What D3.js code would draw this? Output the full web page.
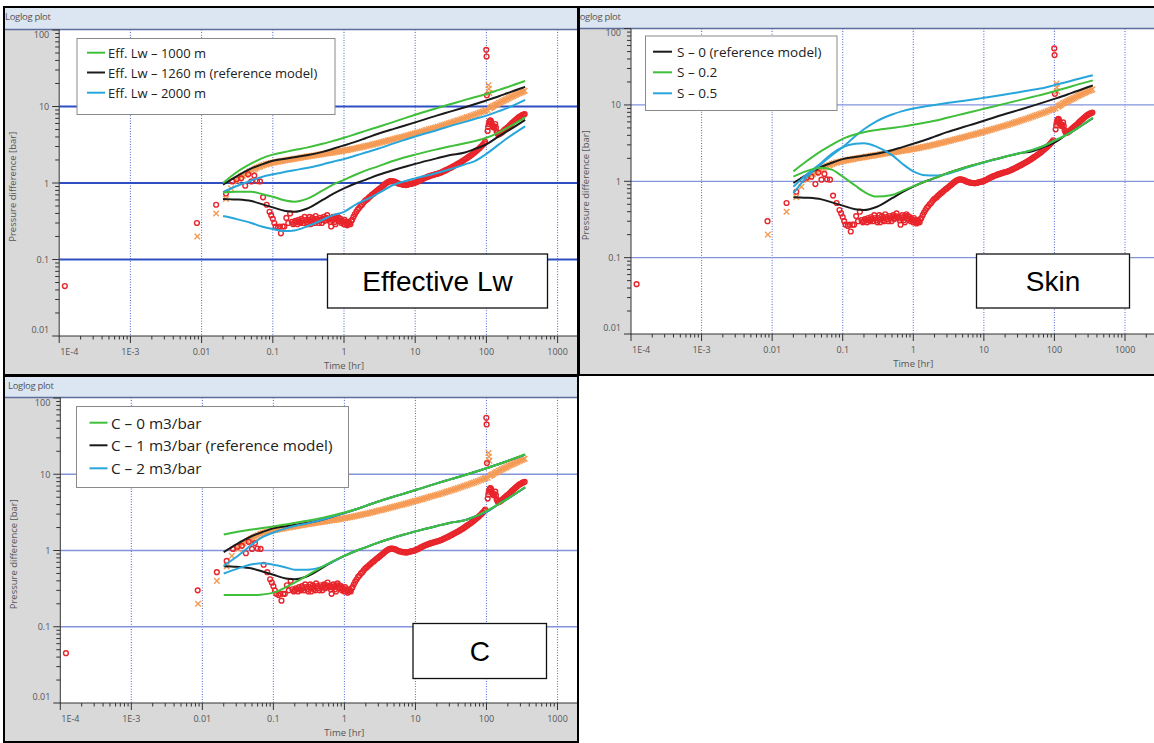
<!DOCTYPE html>
<html><head><meta charset="utf-8">
<script src="https://cdn.jsdelivr.net/npm/d3@7"></script>
<style>
html,body{margin:0;padding:0;background:#fff;}
svg{display:block;font-family:"Open Sans",sans-serif;}
</style></head><body>
<svg id="chart" width="1154" height="743"></svg>
<script>
// ---------- axis ticks ----------
const timeTickValues = [1e-4, 1e-3, 0.01, 0.1, 1, 10, 100, 1000];
const timeTickLabels = ["1E-4", "1E-3", "0.01", "0.1", "1", "10", "100", "1000"];
const pressureTickValues = [0.01, 0.1, 1, 10, 100];
const pressureTickLabels = ["0.01", "0.1", "1", "10", "100"];

// ---------- measured data: derivative (circles) ----------
const derivTime = [
  0.00012, 0.0086, 0.016, 0.022, 0.027, 0.031, 0.036, 0.041, 0.045, 0.050, 0.055, 0.060, 0.066, 0.073, 0.082, 0.090, 0.095,
  0.100, 0.105, 0.110, 0.118, 0.125, 0.130, 0.138, 0.145, 0.155, 0.165, 0.175,
  0.185, 0.193, 0.20, 0.207, 0.215, 0.222, 0.23, 0.238, 0.245, 0.253, 0.26, 0.27, 0.28, 0.29, 0.30, 0.31, 0.32, 0.33, 0.34, 0.35,
  0.36, 0.37, 0.38, 0.39, 0.40, 0.415, 0.43, 0.445, 0.46, 0.475, 0.49, 0.505, 0.52, 0.535, 0.55, 0.565, 0.58, 0.60, 0.62, 0.64,
  0.66, 0.68, 0.70, 0.72, 0.74, 0.76, 0.78, 0.80, 0.82, 0.845, 0.87, 0.895, 0.92, 0.945, 0.97, 0.995, 1.02, 1.05, 1.08, 1.11,
  1.14, 1.17, 1.20, 1.23, 1.27,
  1.30, 1.36, 1.42, 1.49, 1.56, 1.63, 1.71, 1.79, 1.87, 1.96, 2.05, 2.15, 2.25, 2.35, 2.46, 2.58, 2.70, 2.83, 2.96, 3.10, 3.24,
  3.40, 3.56, 3.72, 3.90, 4.08, 4.27, 4.47, 4.68, 4.90, 5.13, 5.37, 5.62, 5.89, 6.17, 6.46, 6.76, 7.08, 7.41, 7.76, 8.13, 8.51,
  8.91, 9.33, 9.77, 10.2, 10.7, 11.2, 11.7, 12.3, 12.9, 13.5, 14.1, 14.8, 15.5, 16.2, 17.0, 17.8, 18.6, 19.5, 20.4, 21.4, 22.4,
  23.4, 24.5, 25.7, 26.9, 28.2, 29.5, 30.9, 32.4, 33.9, 35.5, 37.2, 38.9, 40.7, 42.7, 44.7, 46.8, 49.0, 51.3, 53.7, 56.2, 58.9,
  61.7, 64.6, 67.6, 70.8, 74.1, 77.6, 81.3, 85.1, 89.1, 93.3, 96.0,
  99.5, 100.5, 101.5, 104, 106, 108, 110, 112, 114, 116, 118, 121, 124, 127, 130, 133, 136, 139, 142, 146, 150, 155, 160, 166,
  172, 178, 185, 192, 199, 207, 215, 223, 231, 240, 249, 258, 268, 278, 289, 300, 311, 322, 334, 345];
const derivValue = [
  0.045, 0.30, 0.52, 0.73, 1.05, 1.12, 1.15, 0.92, 1.30, 1.05, 1.25, 1.06, 1.05, 0.65, 0.52, 0.42, 0.38,
  0.34, 0.30, 0.27, 0.26, 0.27, 0.22, 0.27, 0.27, 0.35, 0.30, 0.40,
  0.31, 0.29, 0.30, 0.32, 0.31, 0.29, 0.33, 0.31, 0.30, 0.34, 0.32, 0.30, 0.36, 0.33, 0.31, 0.29, 0.33, 0.36, 0.29, 0.32,
  0.35, 0.31, 0.33, 0.30, 0.37, 0.34, 0.32, 0.30, 0.35, 0.33, 0.30, 0.34, 0.36, 0.32, 0.33, 0.35, 0.38, 0.33, 0.34, 0.31,
  0.27, 0.33, 0.36, 0.34, 0.31, 0.29, 0.35, 0.37, 0.33, 0.35, 0.32, 0.34, 0.30, 0.32, 0.31, 0.29, 0.33, 0.31, 0.30, 0.28,
  0.29, 0.31, 0.30, 0.29, 0.32,
  0.33, 0.36, 0.39, 0.42, 0.45, 0.47, 0.50, 0.52, 0.55, 0.58, 0.60, 0.62, 0.65, 0.67, 0.70, 0.72, 0.75, 0.78, 0.80, 0.83, 0.86,
  0.89, 0.92, 0.96, 0.99, 1.02, 1.04, 1.06, 1.06, 1.05, 1.04, 1.02, 1.00, 0.98, 0.97, 0.96, 0.95, 0.95, 0.94, 0.95, 0.96, 0.97,
  0.98, 0.99, 1.00, 1.02, 1.04, 1.06, 1.09, 1.11, 1.14, 1.16, 1.18, 1.20, 1.22, 1.24, 1.26, 1.27, 1.29, 1.31, 1.32, 1.34, 1.36,
  1.38, 1.41, 1.44, 1.47, 1.50, 1.53, 1.57, 1.60, 1.64, 1.68, 1.72, 1.76, 1.80, 1.85, 1.90, 1.95, 2.01, 2.07, 2.13, 2.19, 2.26,
  2.33, 2.41, 2.49, 2.58, 2.68, 2.78, 2.90, 3.02, 3.16, 3.30, 3.45,
  55, 45, 14, 4.8, 5.4, 5.9, 6.3, 6.5, 6.6, 6.4, 6.0, 5.6, 5.4, 5.3, 5.5, 5.9, 5.3, 4.7, 4.5, 4.3, 4.35, 4.4, 4.5, 4.6,
  4.75, 4.9, 5.05, 5.2, 5.35, 5.5, 5.7, 5.9, 6.1, 6.3, 6.5, 6.7, 6.9, 7.1, 7.3, 7.45, 7.6, 7.75, 7.85, 7.95];

// ---------- measured data: pressure change (crosses) ----------
const deltaPTime = [
  0.0087, 0.016, 0.022, 0.026,
  0.030, 0.032, 0.034, 0.036, 0.038, 0.041, 0.043, 0.046, 0.048, 0.051, 0.054, 0.057, 0.060, 0.064, 0.067, 0.071, 0.075, 0.080,
  0.084, 0.089, 0.094,
  0.100, 0.106, 0.112, 0.119, 0.126, 0.133, 0.141, 0.150, 0.159, 0.168, 0.178, 0.189, 0.200, 0.212, 0.224, 0.238, 0.252, 0.267,
  0.283, 0.300, 0.318, 0.337, 0.357, 0.378, 0.401, 0.425, 0.450, 0.477, 0.506, 0.536, 0.568, 0.602, 0.638, 0.676, 0.717, 0.760,
  0.805, 0.853, 0.904, 0.958, 1.02, 1.08, 1.14, 1.21, 1.28, 1.36, 1.44, 1.53, 1.62, 1.71, 1.82, 1.93, 2.04, 2.16, 2.29, 2.43,
  2.57, 2.73, 2.89, 3.06, 3.25, 3.44, 3.65, 3.87, 4.10, 4.34, 4.60, 4.88, 5.17, 5.48, 5.81, 6.16, 6.53, 6.92, 7.33, 7.77, 8.24,
  8.73, 9.26, 9.81, 10.4, 11.0, 11.7, 12.4, 13.1, 13.9, 14.7, 15.6, 16.5, 17.5, 18.6, 19.7, 20.9, 22.1, 23.5, 24.9, 26.4, 27.9,
  29.6, 31.4, 33.3, 35.3, 37.4, 39.6, 42.0, 44.5, 47.2, 50.0, 53.0, 56.2, 59.6, 63.1, 66.9, 70.9, 75.2, 79.7, 84.5, 89.5, 94.9,
  97, 104, 107, 108, 110, 112, 116, 120, 125, 131, 137, 143, 150, 157, 164, 172, 180, 189, 198, 207, 217, 227, 238, 249, 261,
  273, 286, 300, 314, 329, 345];
const deltaPValue = [
  0.20, 0.40, 0.62, 0.85,
  1.10, 1.05, 1.15, 1.22, 1.25, 1.28, 1.32, 1.37, 1.42, 1.46, 1.50, 1.54, 1.58, 1.62, 1.65, 1.69, 1.72, 1.75,
  1.77, 1.79, 1.82,
  1.84, 1.86, 1.88, 1.90, 1.92, 1.93, 1.95, 1.98, 2.00, 2.01, 2.03, 2.05, 2.07, 2.09, 2.11, 2.13, 2.15, 2.17,
  2.19, 2.21, 2.23, 2.25, 2.27, 2.29, 2.31, 2.33, 2.35, 2.37, 2.39, 2.41, 2.43, 2.45, 2.47, 2.49, 2.51, 2.54,
  2.56, 2.58, 2.61, 2.63, 2.66, 2.69, 2.71, 2.74, 2.77, 2.80, 2.83, 2.87, 2.90, 2.93, 2.97, 3.01, 3.04, 3.08, 3.12, 3.16,
  3.20, 3.25, 3.29, 3.34, 3.38, 3.43, 3.48, 3.53, 3.58, 3.63, 3.68, 3.73, 3.78, 3.84, 3.89, 3.95, 4.00, 4.06, 4.12, 4.18, 4.24,
  4.31, 4.37, 4.44, 4.50, 4.57, 4.65, 4.72, 4.79, 4.87, 4.94, 5.02, 5.10, 5.18, 5.26, 5.35, 5.43, 5.52, 5.62, 5.71, 5.81, 5.91,
  6.01, 6.12, 6.23, 6.34, 6.46, 6.58, 6.70, 6.82, 6.95, 7.08, 7.21, 7.35, 7.49, 7.64, 7.79, 7.94, 8.10, 8.27, 8.44, 8.62, 8.80,
  8.9, 9.0, 19, 17, 15, 9.5, 9.7, 9.9, 10.1, 10.4, 10.6, 10.8, 11.1, 11.3, 11.6, 11.8, 12.1, 12.3, 12.6, 12.9, 13.2, 13.4, 13.7, 14.0, 14.3,
  14.6, 14.9, 15.2, 15.4, 15.7, 16.0];

// ---------- model curves (shared time grid) ----------
const modelTime = [0.02, 0.03, 0.05, 0.07, 0.1, 0.15, 0.2, 0.3, 0.5, 0.7, 1, 1.5, 2, 3, 5, 7, 10, 20, 30, 50, 70, 100, 150, 200, 350];

// reference model (Lw 1260 m, S 0, C 1 m3/bar)
const refPressure   = [0.95, 1.2, 1.55, 1.75, 1.95, 2.08, 2.17, 2.3, 2.55, 2.8, 3.1, 3.5, 3.85, 4.4, 5.1, 5.6, 6.2, 7.6, 8.5, 9.8, 10.8, 12.0, 13.6, 15.0, 18.0];
const refDerivative = [0.62, 0.61, 0.58, 0.53, 0.48, 0.43, 0.42, 0.46, 0.6, 0.72, 0.85, 1.0, 1.1, 1.27, 1.48, 1.62, 1.78, 2.1, 2.3, 2.5, 2.8, 3.2, 4.1, 4.8, 6.7];

// effective well length sensitivities
const lw1000Pressure   = [1.0, 1.35, 1.8, 2.1, 2.35, 2.55, 2.7, 2.9, 3.25, 3.55, 3.9, 4.4, 4.8, 5.4, 6.3, 7.0, 7.8, 9.5, 10.6, 12.2, 13.3, 14.6, 16.5, 18.0, 21.5];
const lw1000Derivative = [0.75, 0.77, 0.77, 0.72, 0.66, 0.59, 0.57, 0.62, 0.8, 0.95, 1.1, 1.3, 1.45, 1.65, 1.95, 2.15, 2.35, 2.75, 3.0, 3.3, 3.55, 3.9, 4.6, 5.3, 7.2];
const lw2000Pressure   = [0.76, 0.9, 1.08, 1.2, 1.3, 1.4, 1.47, 1.57, 1.75, 1.9, 2.05, 2.3, 2.5, 2.8, 3.3, 3.65, 4.05, 4.9, 5.5, 6.3, 6.9, 7.6, 8.7, 9.6, 12.2];
const lw2000Derivative = [0.37, 0.34, 0.3, 0.27, 0.25, 0.235, 0.24, 0.27, 0.33, 0.38, 0.42, 0.53, 0.6, 0.73, 0.95, 1.05, 1.15, 1.35, 1.5, 1.75, 1.95, 2.4, 3.2, 3.9, 5.5];

// skin sensitivities
const skin02Pressure   = [1.35, 1.8, 2.5, 3.0, 3.6, 4.1, 4.4, 4.7, 5.0, 5.2, 5.5, 5.9, 6.2, 6.8, 7.6, 8.2, 8.9, 10.4, 11.4, 12.8, 13.8, 15.1, 16.8, 18.2, 21.0];
const skin02Derivative = [1.15, 1.35, 1.5, 1.42, 1.15, 0.88, 0.73, 0.63, 0.66, 0.75, 0.86, 1.0, 1.1, 1.27, 1.48, 1.62, 1.78, 2.1, 2.3, 2.6, 2.9, 3.4, 4.1, 4.8, 6.8];
const skin05Pressure   = [0.7, 1.1, 1.7, 2.2, 2.8, 3.9, 4.8, 6.1, 7.5, 8.3, 9.0, 9.6, 10.0, 10.6, 11.3, 11.8, 12.4, 13.7, 14.6, 15.8, 16.7, 18.2, 20.0, 21.5, 24.5];
const skin05Derivative = [0.85, 1.2, 1.75, 2.3, 2.8, 3.1, 3.15, 2.85, 2.2, 1.7, 1.35, 1.2, 1.19, 1.25, 1.45, 1.6, 1.76, 2.1, 2.3, 2.6, 2.9, 3.4, 4.1, 4.8, 6.8];

// wellbore storage sensitivities
const c0Pressure   = [1.62, 1.75, 1.88, 1.97, 2.07, 2.2, 2.3, 2.45, 2.7, 2.9, 3.15, 3.5, 3.85, 4.4, 5.1, 5.6, 6.2, 7.6, 8.5, 9.8, 10.8, 12.0, 13.6, 15.0, 18.3];
const c0Derivative = [0.26, 0.26, 0.26, 0.265, 0.28, 0.33, 0.38, 0.47, 0.62, 0.73, 0.85, 1.0, 1.1, 1.27, 1.48, 1.62, 1.78, 2.1, 2.3, 2.5, 2.8, 3.3, 4.1, 4.8, 6.8];
const c2Pressure   = [0.63, 0.82, 1.2, 1.5, 1.72, 1.95, 2.1, 2.27, 2.55, 2.8, 3.1, 3.5, 3.85, 4.4, 5.1, 5.6, 6.2, 7.6, 8.5, 9.8, 10.8, 12.0, 13.6, 15.0, 18.0];
const c2Derivative = [0.5, 0.57, 0.66, 0.68, 0.65, 0.6, 0.56, 0.56, 0.62, 0.72, 0.85, 1.0, 1.1, 1.27, 1.48, 1.62, 1.78, 2.1, 2.3, 2.5, 2.8, 3.2, 4.1, 4.8, 6.7];

// ---------- labels ----------
const panelTitles = ["Effective Lw", "Skin", "C"];
const lwLegend = ["Eff. Lw \u2013 1000 m", "Eff. Lw \u2013 1260 m (reference model)", "Eff. Lw \u2013 2000 m"];
const skinLegend = ["S \u2013 0 (reference model)", "S \u2013 0.2", "S \u2013 0.5"];
const cLegend = ["C \u2013 0 m3/bar", "C \u2013 1 m3/bar (reference model)", "C \u2013 2 m3/bar"];

// ---------- drawing ----------
const GREEN = "#3fbf3a", BLACK = "#1b1b1b", BLUE = "#28a6dc";
const svg = d3.select("#chart");

const panels = [
  {
    frame: {x: 4, y: 7, w: 574, h: 368}, plotTop: 29.5, plotBottom: 336, plotLeft: 59.2, plotRight: 577,
    xRange: [59.2, 557.6], yRange: [336, 30],
    hGrid: {color: "#2e4fc2", width: 1.8},
    legend: {x: 77, y: 38.5, w: 258, h: 76, rows: [52.7, 72.5, 92.7], lineX: [87, 105], textX: 108, font: 13},
    legendText: lwLegend, legendColors: [GREEN, BLACK, BLUE],
    curves: [
      [refPressure, BLACK], [refDerivative, BLACK],
      [lw2000Pressure, BLUE], [lw2000Derivative, BLUE],
      [lw1000Pressure, GREEN], [lw1000Derivative, GREEN]
    ],
    title: panelTitles[0], box: {x: 327.5, y: 254, w: 220, h: 54},
    yTitleX: 12, headerTextX: 5
  },
  {
    frame: {x: 579, y: 7, w: 580, h: 368}, plotTop: 28.5, plotBottom: 334, plotLeft: 631, plotRight: 1154,
    xRange: [631, 1125], yRange: [334, 28.6],
    hGrid: {color: "#8194dc", width: 1.3},
    legend: {x: 645.5, y: 36, w: 191.5, h: 74.5, rows: [51.7, 72.3, 93.3], lineX: [653, 672], textX: 677, font: 13.5},
    legendText: skinLegend, legendColors: [BLACK, GREEN, BLUE],
    curves: [
      [refPressure, BLACK], [refDerivative, BLACK],
      [skin05Pressure, BLUE], [skin05Derivative, BLUE],
      [skin02Pressure, GREEN], [skin02Derivative, GREEN]
    ],
    title: panelTitles[1], box: {x: 976.5, y: 254, w: 153, h: 54},
    yTitleX: 585, headerTextX: 575
  },
  {
    frame: {x: 4, y: 376, w: 574, h: 366}, plotTop: 397.5, plotBottom: 703, plotLeft: 60.3, plotRight: 577,
    xRange: [60.3, 557.5], yRange: [703, 398],
    hGrid: {color: "#8194dc", width: 1.3},
    legend: {x: 76.5, y: 406.5, w: 272, h: 81, rows: [422.7, 445.3, 468.3], lineX: [89.5, 107.5], textX: 111, font: 15.3},
    legendText: cLegend, legendColors: [GREEN, BLACK, BLUE],
    curves: [
      [refPressure, BLACK], [refDerivative, BLACK],
      [c2Pressure, BLUE], [c2Derivative, BLUE],
      [c0Pressure, GREEN], [c0Derivative, GREEN]
    ],
    title: panelTitles[2], box: {x: 413, y: 623.5, w: 133.5, h: 55},
    yTitleX: 13, headerTextX: 8
  }
];

// minor tick positions (2..9 within every decade)
function minorTicks(lo, hi) {
  const out = [];
  for (let e = Math.floor(Math.log10(lo)); e <= Math.ceil(Math.log10(hi)); e++) {
    for (let m = 2; m <= 9; m++) {
      const v = m * Math.pow(10, e);
      if (v > lo && v < hi) out.push(v);
    }
  }
  return out;
}

panels.forEach((p, i) => {
  const g = svg.append("g");
  const f = p.frame;
  const x = d3.scaleLog().domain([1e-4, 1000]).range(p.xRange);
  const y = d3.scaleLog().domain([0.01, 100]).range(p.yRange);
  const clipId = "clip" + i;
  const frameClip = "frameclip" + i;

  g.append("clipPath").attr("id", frameClip).append("rect")
    .attr("x", f.x).attr("y", f.y).attr("width", Math.min(f.w, 1154 - f.x)).attr("height", f.h);
  const inner = g.append("g").attr("clip-path", `url(#${frameClip})`);

  // grey panel background
  inner.append("rect").attr("x", f.x).attr("y", f.y).attr("width", f.w).attr("height", f.h).attr("fill", "#d9d9d9");
  // header strip
  inner.append("rect").attr("x", f.x).attr("y", f.y).attr("width", f.w).attr("height", p.plotTop - f.y).attr("fill", "#dce6f2");
  inner.append("text").attr("x", p.headerTextX).attr("y", f.y + 13)
    .attr("font-size", 9.5).attr("fill", "#555").attr("letter-spacing", -0.3).text("Loglog plot");

  // white plotting area
  inner.append("rect").attr("x", p.plotLeft).attr("y", p.plotTop)
    .attr("width", p.plotRight - p.plotLeft).attr("height", p.plotBottom - p.plotTop).attr("fill", "#fff");

  g.append("clipPath").attr("id", clipId).append("rect")
    .attr("x", p.plotLeft).attr("y", p.plotTop)
    .attr("width", p.plotRight - p.plotLeft).attr("height", p.plotBottom - p.plotTop);
  const plot = inner.append("g").attr("clip-path", `url(#${clipId})`);

  // vertical dotted grid at decades
  plot.selectAll("line.vg").data(timeTickValues.slice(1)).join("line")
    .attr("x1", d => x(d)).attr("x2", d => x(d)).attr("y1", p.plotTop).attr("y2", p.plotBottom)
    .attr("stroke", "#5f74d2").attr("stroke-width", 1.1).attr("stroke-dasharray", "1,1.6");
  // horizontal grid
  plot.selectAll("line.hg").data([0.1, 1, 10]).join("line")
    .attr("x1", p.plotLeft).attr("x2", p.plotRight).attr("y1", d => y(d)).attr("y2", d => y(d))
    .attr("stroke", p.hGrid.color).attr("stroke-width", p.hGrid.width);

  // header bottom line
  inner.append("line").attr("x1", f.x).attr("x2", f.x + f.w).attr("y1", p.plotTop).attr("y2", p.plotTop)
    .attr("stroke", "#5d6e9c").attr("stroke-width", 1.5);

  // measured pressure change: crosses
  const xs = 2.8;
  const crosses = plot.append("g").attr("stroke", "#f59b55").attr("stroke-width", 1.4).attr("fill", "none");
  deltaPTime.forEach((t, k) => {
    const cx = x(t), cy = y(deltaPValue[k]);
    crosses.append("path").attr("d", `M${cx - xs},${cy - xs}L${cx + xs},${cy + xs}M${cx - xs},${cy + xs}L${cx + xs},${cy - xs}`);
  });
  // measured derivative: open circles
  plot.append("g").selectAll("circle").data(derivTime.map((t, k) => [t, derivValue[k]])).join("circle")
    .attr("cx", d => x(d[0])).attr("cy", d => y(d[1])).attr("r", 2.4)
    .attr("fill", "none").attr("stroke", "#e8252b").attr("stroke-width", 1.4);

  // model curves
  const line = d3.line().x(d => x(d[0])).y(d => y(d[1])).curve(d3.curveMonotoneX);
  p.curves.forEach(([vals, col]) => {
    plot.append("path").datum(modelTime.map((t, k) => [t, vals[k]]))
      .attr("d", line).attr("fill", "none").attr("stroke", col).attr("stroke-width", 2);
  });

  // axes lines
  inner.append("line").attr("x1", p.plotLeft).attr("x2", p.plotLeft).attr("y1", p.plotTop).attr("y2", p.plotBottom + 0.5)
    .attr("stroke", "#333").attr("stroke-width", 1);
  inner.append("line").attr("x1", p.plotLeft).attr("x2", p.plotRight).attr("y1", p.plotBottom).attr("y2", p.plotBottom)
    .attr("stroke", "#333").attr("stroke-width", 1);

  // x ticks
  const xMax = x.invert(p.plotRight);
  inner.selectAll("line.xmaj").data(timeTickValues).join("line")
    .attr("x1", d => x(d)).attr("x2", d => x(d)).attr("y1", p.plotBottom).attr("y2", p.plotBottom + 7)
    .attr("stroke", "#333");
  inner.selectAll("line.xmin").data(minorTicks(1e-4, xMax)).join("line")
    .attr("x1", d => x(d)).attr("x2", d => x(d)).attr("y1", p.plotBottom).attr("y2", p.plotBottom + 3.5)
    .attr("stroke", "#333");
  inner.selectAll("text.xl").data(timeTickValues).join("text")
    .attr("x", (d, k) => k === 0 ? x(d) + 1 : x(d)).attr("y", p.plotBottom + 19)
    .attr("text-anchor", (d, k) => k === 0 ? "start" : "middle")
    .attr("font-size", 9).attr("fill", "#555")
    .text((d, k) => timeTickLabels[k]);

  // y ticks
  inner.selectAll("line.ymaj").data(pressureTickValues).join("line")
    .attr("x1", p.plotLeft - 7).attr("x2", p.plotLeft).attr("y1", d => y(d)).attr("y2", d => y(d))
    .attr("stroke", "#333");
  inner.selectAll("line.ymin").data(minorTicks(0.01, 100)).join("line")
    .attr("x1", p.plotLeft - 4).attr("x2", p.plotLeft).attr("y1", d => y(d)).attr("y2", d => y(d))
    .attr("stroke", "#333");
  inner.selectAll("text.yl").data(pressureTickValues).join("text")
    .attr("x", p.plotLeft - 10)
    .attr("y", (d, k) => k === pressureTickValues.length - 1 ? y(d) + 7.5 : (k === 0 ? y(d) - 3.5 : y(d) + 3.5))
    .attr("text-anchor", "end").attr("font-size", 9).attr("fill", "#555")
    .text((d, k) => pressureTickLabels[k]);

  // axis titles
  inner.append("text").attr("x", x(1)).attr("y", p.plotBottom + 33).attr("text-anchor", "middle")
    .attr("font-size", 9.5).attr("fill", "#555").text("Time [hr]");
  inner.append("text").attr("transform", `translate(${p.yTitleX},${(p.plotTop + p.plotBottom) / 2 + 4}) rotate(-90)`)
    .attr("text-anchor", "middle").attr("dominant-baseline", "central")
    .attr("font-size", 9.5).attr("fill", "#555").text("Pressure difference [bar]");

  // legend
  const L = p.legend;
  const lg = inner.append("g");
  lg.append("rect").attr("x", L.x).attr("y", L.y).attr("width", L.w).attr("height", L.h)
    .attr("fill", "#fff").attr("stroke", "#8a8a8a").attr("stroke-width", 1);
  p.legendText.forEach((txt, k) => {
    lg.append("line").attr("x1", L.lineX[0]).attr("x2", L.lineX[1]).attr("y1", L.rows[k]).attr("y2", L.rows[k])
      .attr("stroke", p.legendColors[k]).attr("stroke-width", 2);
    lg.append("text").attr("x", L.textX).attr("y", L.rows[k]).attr("dominant-baseline", "central")
      .attr("font-size", L.font).attr("fill", "#222").text(txt);
  });

  // parameter label box
  const B = p.box;
  inner.append("rect").attr("x", B.x).attr("y", B.y).attr("width", B.w).attr("height", B.h)
    .attr("fill", "#fff").attr("stroke", "#111").attr("stroke-width", 1.3);
  inner.append("text").attr("x", B.x + B.w / 2).attr("y", B.y + B.h / 2 + 10).attr("text-anchor", "middle")
    .attr("font-family", "'Liberation Sans', Arial, sans-serif").attr("font-size", 28).attr("fill", "#000").text(p.title);

  // panel frame
  g.append("rect").attr("x", f.x).attr("y", f.y).attr("width", f.w).attr("height", f.h)
    .attr("fill", "none").attr("stroke", "#000").attr("stroke-width", 2);
});
</script>
</body></html>
